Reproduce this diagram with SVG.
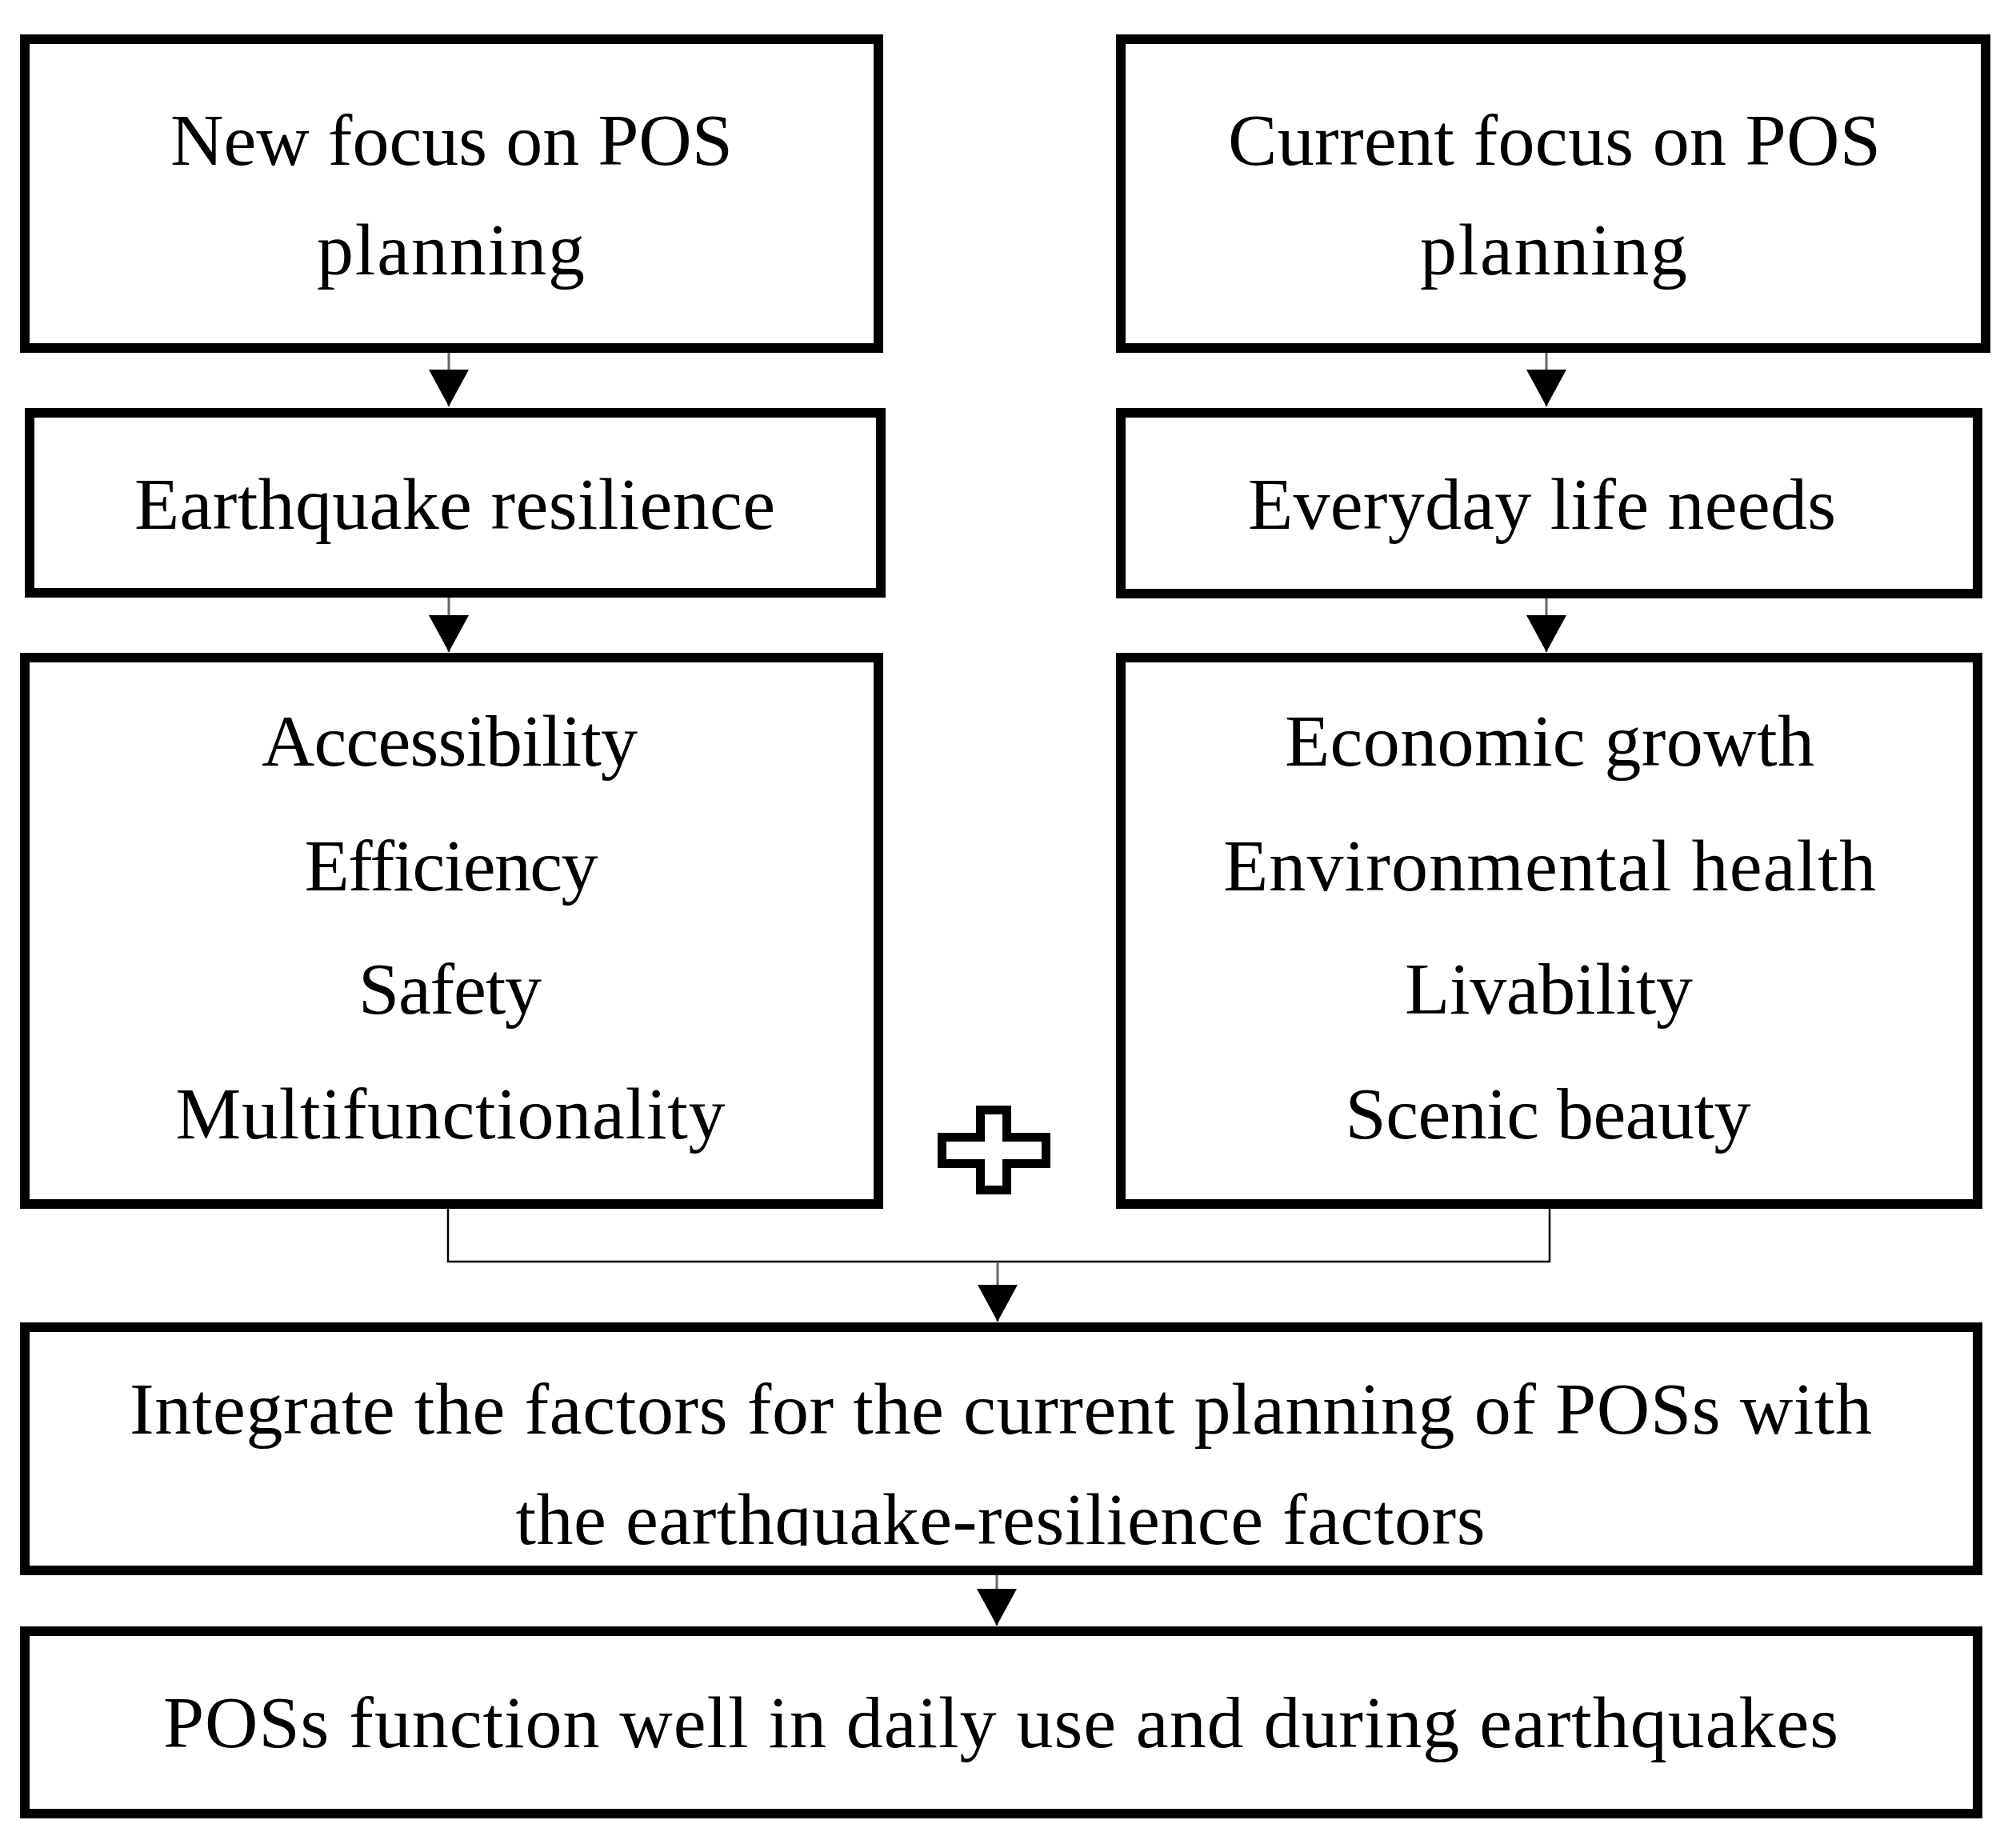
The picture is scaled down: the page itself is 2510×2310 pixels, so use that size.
<svg xmlns="http://www.w3.org/2000/svg" width="2510" height="2310" viewBox="0 0 2510 2310">
<style>
.box{fill:#fff;stroke:#000;stroke-width:12}
.t{font-family:"Liberation Serif","DejaVu Serif",serif;font-size:92px;fill:#000;text-anchor:middle}
.stem{stroke:#666;stroke-width:3;fill:none}
.join{stroke:#000;stroke-width:2.5;fill:none}
.plus{fill:#fff;stroke:#000;stroke-width:11}
</style>
<defs>
<marker id="ah" markerUnits="userSpaceOnUse" markerWidth="46" markerHeight="50" refX="46" refY="25" orient="auto" viewBox="0 0 46 50">
<path d="M0,0 L46,25 L0,50 Z" fill="#000"/>
</marker>
<clipPath id="clipInt"><rect x="31" y="1659" width="2441" height="273"/></clipPath>
</defs>
<rect width="2510" height="2310" fill="#fff"/>
<g id="connectors">
<line class="stem" x1="561" y1="441" x2="561" y2="508" marker-end="url(#ah)"/>
<line class="stem" x1="561" y1="747" x2="561" y2="815" marker-end="url(#ah)"/>
<line class="stem" x1="1933" y1="441" x2="1933" y2="508" marker-end="url(#ah)"/>
<line class="stem" x1="1933" y1="748" x2="1933" y2="815" marker-end="url(#ah)"/>
<polyline class="join" points="560,1511 560,1577 1937,1577 1937,1511"/>
<line class="stem" x1="1247" y1="1577" x2="1247" y2="1652" marker-end="url(#ah)"/>
<line class="stem" x1="1246" y1="1969" x2="1246" y2="2032" marker-end="url(#ah)"/>
</g>
<g id="new-focus">
<rect class="box" x="31" y="49" width="1067" height="386"/>
<text class="t" x="564.5" y="206" textLength="703">New focus on POS</text>
<text class="t" x="563.5" y="343" textLength="335">planning</text>
</g>
<g id="earthquake-resilience">
<rect class="box" x="37" y="516" width="1064" height="225"/>
<text class="t" x="568.5" y="661" textLength="801">Earthquake resilience</text>
</g>
<g id="resilience-factors">
<rect class="box" x="31" y="822" width="1067" height="683"/>
<text class="t" x="562" y="957" textLength="470">Accessibility</text>
<text class="t" x="564" y="1113" textLength="367">Efficiency</text>
<text class="t" x="562.5" y="1267" textLength="229">Safety</text>
<text class="t" x="563" y="1423" textLength="687">Multifunctionality</text>
</g>
<g id="current-focus">
<rect class="box" x="1401" y="49" width="1081" height="386"/>
<text class="t" x="1943" y="206" textLength="816">Current focus on POS</text>
<text class="t" x="1942" y="343" textLength="334">planning</text>
</g>
<g id="everyday-needs">
<rect class="box" x="1401" y="516" width="1071" height="226"/>
<text class="t" x="1927.5" y="661" textLength="735">Everyday life needs</text>
</g>
<g id="current-factors">
<rect class="box" x="1401" y="822" width="1071" height="683"/>
<text class="t" x="1937" y="957" textLength="662">Economic growth</text>
<text class="t" x="1937" y="1113" textLength="816">Environmental health</text>
<text class="t" x="1936" y="1267" textLength="360">Livability</text>
<text class="t" x="1935" y="1423" textLength="507">Scenic beauty</text>
</g>
<g id="plus">
<path class="plus" d="M1225.5,1387.5 H1258.5 V1421.5 H1307.5 V1454.5 H1258.5 V1487.5 H1225.5 V1454.5 H1177.5 V1421.5 H1225.5 Z"/>
</g>
<g id="integrate">
<rect class="box" x="31" y="1659" width="2441" height="304"/>
<text class="t" x="1251" y="1792" textLength="2178">Integrate the factors for the current planning of POSs with</text>
<text class="t" x="1250.5" y="1930" textLength="1212" clip-path="url(#clipInt)">the earthquake-resilience factors</text>
</g>
<g id="outcome">
<rect class="box" x="31" y="2039" width="2441" height="228"/>
<text class="t" x="1251" y="2184" textLength="2094">POSs function well in daily use and during earthquakes</text>
</g>
</svg>
